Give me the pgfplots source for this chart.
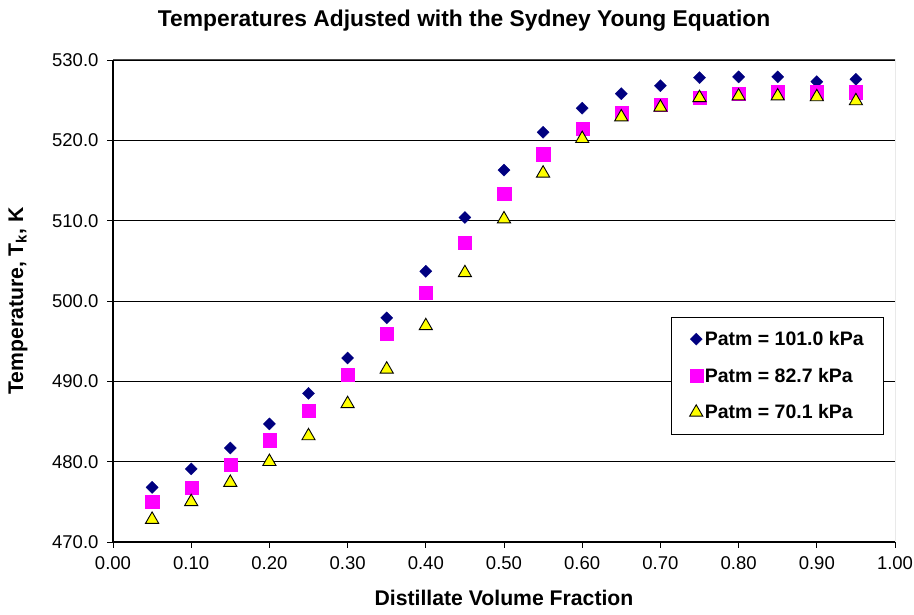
\documentclass[border=0pt]{standalone}
\usepackage{fontspec}
\setmainfont{Liberation Sans}
\usepackage{pgfplots}
\pgfplotsset{compat=1.18}
\definecolor{navyc}{HTML}{000080}
\definecolor{magc}{HTML}{FF00FF}
\definecolor{yelc}{HTML}{FFFF00}
\begin{document}
\begin{tikzpicture}
\useasboundingbox (0,0) rectangle (914pt,615pt);
\begin{axis}[
  at={(113pt,73pt)}, anchor=south west,
  scale only axis, width=782pt, height=482pt,
  xmin=0, xmax=1, ymin=470, ymax=530,
  xtick={0,0.1,...,1.0}, ytick={470,480,...,530},
  axis x line*=bottom, axis y line*=left,
  axis line style={black, line width=1.2pt},
  tick style={black, line width=0.8pt},
  tick align=outside, major tick length=6pt,
  ymajorgrids, grid style={black, line width=0.7pt},
  /pgf/number format/assume math mode=true,
  xticklabel style={/pgf/number format/.cd, fixed, fixed zerofill, precision=2, /tikz/.cd, yshift=-5pt},
  yticklabel style={/pgf/number format/.cd, fixed, fixed zerofill, precision=1, /tikz/.cd, xshift=-5pt},
  ticklabel style={font=\fontsize{18.5}{20}\selectfont},
  xlabel={\textbf{Distillate Volume Fraction}},
  ylabel={\textbf{Temperature, T\textsubscript{k}, K}},
  label style={font=\fontsize{21.2}{24}\selectfont},
  xlabel style={yshift=-14pt},
  ylabel style={at={(rel axis cs:0,0.5)}, anchor=center, yshift=95pt},
  title={\textbf{Temperatures Adjusted with the Sydney Young Equation}},
  title style={font=\fontsize{22.8}{26}\selectfont, at={(rel axis cs:0.449,1)}, anchor=center, yshift=33pt},
  legend style={at={(0.986,0.467)}, anchor=north east, draw=black, line width=0.8pt,
    font=\fontsize{19.5}{21}\selectfont\bfseries, row sep=17pt, inner xsep=18pt, inner ysep=12pt},
  legend cell align=left,
  legend image code/.code={\draw[#1] plot coordinates {(0.2cm,0cm)};},
]
\addplot[only marks, mark=square*, mark size=4.3pt, mark options={rotate=45, fill=navyc, draw=navyc, line width=0.3pt}] coordinates {
(0.05,476.8) (0.10,479.1) (0.15,481.7) (0.20,484.7) (0.25,488.5) (0.30,492.9) (0.35,497.9)
(0.40,503.7) (0.45,510.4) (0.50,516.3) (0.55,521.0) (0.60,524.0) (0.65,525.8) (0.70,526.8)
(0.75,527.8) (0.80,527.9) (0.85,527.9) (0.90,527.3) (0.95,527.6)};
\addlegendentry{Patm = 101.0 kPa}
\addplot[only marks, mark=square*, mark size=6.6pt, mark options={fill=magc, draw=magc, line width=0.1pt}] coordinates {
(0.05,475.0) (0.10,476.8) (0.15,479.6) (0.20,482.7) (0.25,486.4) (0.30,490.8) (0.35,495.9)
(0.40,501.1) (0.45,507.3) (0.50,513.4) (0.55,518.3) (0.60,521.5) (0.65,523.4) (0.70,524.5)
(0.75,525.3) (0.80,525.8) (0.85,526.0) (0.90,526.0) (0.95,526.0)};
\addlegendentry{Patm = 82.7 kPa}
\addplot[only marks, mark=triangle*, mark size=7.6pt, mark options={fill=yelc, draw=black, line width=0.9pt}] coordinates {
(0.05,472.8) (0.10,475.0) (0.15,477.4) (0.20,480.0) (0.25,483.2) (0.30,487.2) (0.35,491.5)
(0.40,496.9) (0.45,503.5) (0.50,510.2) (0.55,515.9) (0.60,520.2) (0.65,522.9) (0.70,524.1)
(0.75,525.3) (0.80,525.5) (0.85,525.5) (0.90,525.4) (0.95,524.9)};
\addlegendentry{Patm = 70.1 kPa}
\draw[gray!60!black, line width=1pt] (rel axis cs:0,1) -- (rel axis cs:1,1) -- (rel axis cs:1,0);
\end{axis}
\end{tikzpicture}
\end{document}
